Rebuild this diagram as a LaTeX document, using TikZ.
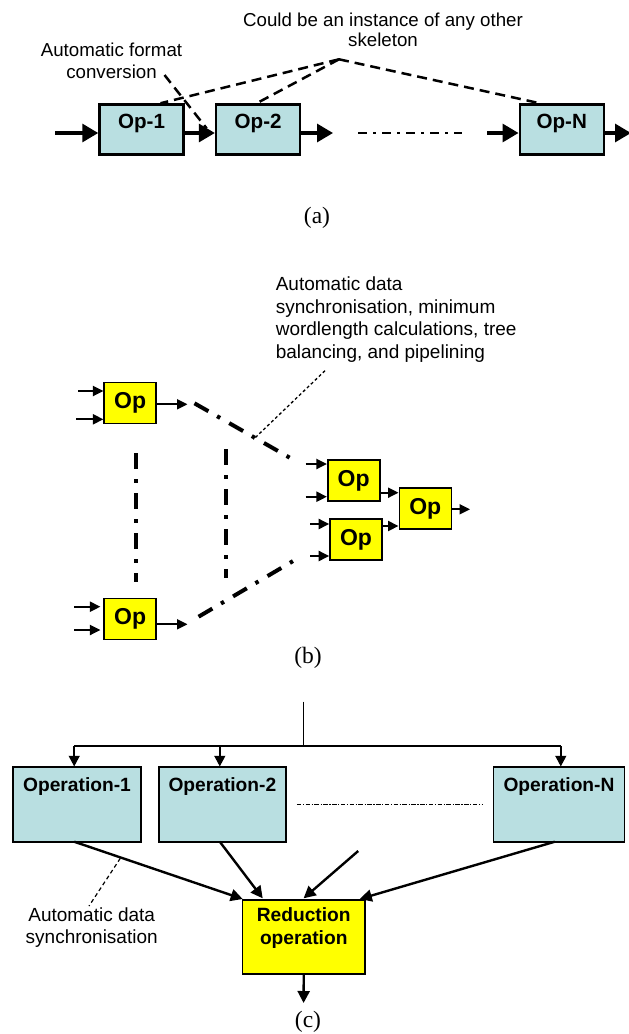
\documentclass[tikz,border=0pt]{standalone}
\usepackage{fontspec}
\setmainfont{Liberation Serif}
\setsansfont{Liberation Sans}
\usetikzlibrary{arrows.meta,calc}

\definecolor{opblue}{RGB}{185,223,225}
\definecolor{opyellow}{RGB}{255,255,0}

\tikzset{
  note/.style={font=\sffamily\fontsize{19}{21.5}\selectfont, inner sep=0pt},
  caption/.style={font=\fontsize{23.5}{26}\selectfont, inner sep=0pt},
  % part (a)
  pipebox/.style={draw, line width=2.5pt, fill=opblue, minimum width=84pt, minimum height=50pt, inner sep=0pt},
  pipelbl/.style={font=\sffamily\bfseries\fontsize{20.6}{23}\selectfont, inner sep=0pt},
  pipearrow/.style={line width=3.2pt, -{Triangle[length=16pt,width=18pt]}},
  pipedash/.style={line width=2.5pt, dash pattern=on 10pt off 6pt},
  pipegap/.style={line width=2.7pt, dash pattern=on 8.5pt off 6.5pt on 2.5pt off 6.5pt},
  % part (b)
  treebox/.style={draw, line width=1.6pt, fill=opyellow, minimum width=52pt, minimum height=41pt, inner sep=0pt,
    font=\sffamily\bfseries\fontsize{23}{26}\selectfont},
  treearrow/.style={line width=2.1pt, -{Triangle[length=10.5pt,width=10pt]}},
  treegap/.style={line width=4pt, dash pattern=on 16pt off 10pt on 3.5pt off 10.5pt},
  treelead/.style={line width=1.3pt, dash pattern=on 3pt off 2.5pt},
  % part (c)
  redbox/.style={draw, line width=1.7pt, fill=opblue, minimum height=74.4pt, inner sep=0pt},
  redlbl/.style={font=\sffamily\bfseries\fontsize{19.2}{23.3}\selectfont, inner sep=0pt},
  forkline/.style={line width=1.5pt},
  forkarrow/.style={line width=1.5pt, -{Triangle[length=10.7pt,width=11pt]}},
  joinarrow/.style={line width=2.4pt, -{Triangle[length=12pt,width=12pt]}},
  redgap/.style={line width=1.3pt, dash pattern=on 4.5pt off 1.6pt on 1.2pt off 1.5pt},
  redlead/.style={line width=1.2pt, dash pattern=on 4pt off 3pt},
}

\begin{document}
\begin{tikzpicture}[x=1pt,y=-1pt]
\path[use as bounding box, fill=white] (0,0) rectangle (629,1034);
\clip (0,0) rectangle (629,1034);

% ---------------- (a) pipeline of operators ----------------
\node[pipebox] (a1) at (141.5,129.5) {};
\node[pipebox] (a2) at (258.1,129.5) {};
\node[pipebox] (aN) at (561.8,129.5) {};
\node[pipelbl] (a1t) at (141.5,123.4) {Op-1};
\node[pipelbl] (a2t) at (258.1,123.4) {Op-2};
\node[pipelbl] (aNt) at (561.8,123.4) {Op-N};

\coordinate (ain) at (55,133);
\coordinate (a2out) at (333,133);
\coordinate (gapL) at (358.3,133);
\coordinate (gapR) at (462.3,133);
\coordinate (aNin) at (487,133);
\coordinate (aout) at (631,133);

\draw[pipearrow] (ain) -- (ain -| a1.west);
\draw[pipearrow] (ain -| a1.east) -- (ain -| a2.west);
\draw[pipearrow] (ain -| a2.east) -- (a2out);
\draw[pipegap] (gapL) -- (gapR);
\draw[pipearrow] (aNin) -- (aNin -| aN.west);
\draw[pipearrow] (ain -| aN.east) -- (aout);

\node[note, align=center, font=\sffamily\fontsize{18.7}{20.7}\selectfont] (skel) at (383,29.7)
  {Could be an instance of any other\\skeleton};
\node[note, align=center, font=\sffamily\fontsize{18.7}{21.7}\selectfont] (fmt) at (111.5,60.8)
  {Automatic format\\conversion};

\coordinate (apex) at (339,59.3);
\draw[pipedash] (apex) -- ([xshift=19pt]a1.north);
\draw[pipedash] (apex) -- ([xshift=-1.4pt]a2.north);
\draw[pipedash] (apex) -- ([xshift=-22pt]aN.north);
\coordinate (fmtA) at (164.5,75);
\coordinate (fmtB) at (206.6,128.3);
\draw[pipedash] (fmtA) -- (fmtB);

\node[caption] (capa) at (317,218) {(a)};

% ---------------- (b) reduction tree ----------------
\node[treebox] (b1) at (130.2,402.9) {Op};
\node[treebox] (b2) at (130.2,618.9) {Op};
\node[treebox] (b3) at (353.7,480.5) {Op};
\node[treebox] (b4) at (356.0,539.5) {Op};
\node[treebox] (b5) at (425.3,508.5) {Op};

\coordinate (b1i1) at (78,391);
\coordinate (b1i2) at (76,419.3);
\coordinate (b1o) at (187.5,404.3);
\coordinate (b2i1) at (74.2,606.7);
\coordinate (b2i2) at (74.2,630);
\coordinate (b2o) at (187.5,624.3);
\coordinate (b3i1) at (305.7,464);
\coordinate (b3i2) at (305.7,496.7);
\coordinate (b4i1) at (310,524);
\coordinate (b4i2) at (310,556);
\coordinate (b35) at (0,492.7);
\coordinate (b45) at (0,526);
\coordinate (b5o) at (470,509.3);

\draw[treearrow] (b1i1) -- (b1i1 -| b1.west);
\draw[treearrow] (b1i2) -- (b1i2 -| b1.west);
\draw[treearrow] (b1o -| b1.east) -- (b1o);
\draw[treearrow] (b2i1) -- ([xshift=-3pt]b2i1 -| b2.west);
\draw[treearrow] (b2i2) -- ([xshift=-3pt]b2i2 -| b2.west);
\draw[treearrow] (b2o -| b2.east) -- (b2o);
\draw[treearrow] (b3i1) -- (b3i1 -| b3.west);
\draw[treearrow] (b3i2) -- (b3i2 -| b3.west);
\draw[treearrow] (b4i1) -- (b4i1 -| b4.west);
\draw[treearrow] (b4i2) -- (b4i2 -| b4.west);
\draw[treearrow] (b35 -| b3.east) -- (b35 -| b5.west);
\draw[treearrow] (b45 -| b4.east) -- (b45 -| b5.west);
\draw[treearrow] (b5o -| b5.east) -- (b5o);

\coordinate (g1a) at (194.5,403.3);
\coordinate (g1b) at (290.8,458.3);
\coordinate (g2a) at (198.6,616.7);
\coordinate (g2b) at (294.8,560);
\coordinate (g3a) at (136.4,453.3);
\coordinate (g3b) at (136.4,581.7);
\coordinate (g4a) at (225.8,449.3);
\coordinate (g4b) at (225.8,578.3);
\draw[treegap] (g1a) -- (g1b);
\draw[treegap] (g2a) -- (g2b);
\draw[treegap] (g3a) -- (g3b);
\draw[treegap] (g4a) -- (g4b);

\node[note, anchor=west, align=left, font=\sffamily\fontsize{19}{22.5}\selectfont] (sync) at (275.6,319.5)
  {Automatic data\\synchronisation, minimum\\wordlength calculations, tree\\balancing, and pipelining};
\coordinate (leadA) at (325,370.7);
\coordinate (leadB) at (253.5,439.3);
\draw[treelead] (leadA) -- (leadB);

\node[caption] (capb) at (308,658) {(b)};

% ---------------- (c) parallel operations with reduction ----------------
\node[redbox, minimum width=127.6pt] (c1) at (77,804.5) {};
\node[redbox, minimum width=127.2pt] (c2) at (222.4,804.5) {};
\node[redbox, minimum width=131pt] (cN) at (559,804.5) {};
\node[redlbl, anchor=base] (c1t) at (77,791) {Operation-1};
\node[redlbl, anchor=base] (c2t) at (222.4,791) {Operation-2};
\node[redlbl, anchor=base] (cNt) at (559,791) {Operation-N};

\node[draw, line width=1.7pt, fill=opyellow, minimum width=122.5pt, minimum height=74pt, inner sep=0pt]
  (red) at (303.75,936.7) {};
\node[redlbl, align=center] (redt) at (303.75,928.3) {Reduction\\operation};

\coordinate (src) at (303.6,701.7);
\coordinate (fork) at (303.6,746);
\coordinate (f1) at (74.2,746);
\coordinate (f2) at (219.8,746);
\coordinate (fN) at (560.8,746);
\draw[forkline] (src) -- (fork);
\draw[forkline] (f1) -- (fN);
\draw[forkarrow] (f1) -- (f1 |- c1.north);
\draw[forkarrow] (f2) -- (f2 |- c2.north);
\draw[forkarrow] (fN) -- (fN |- cN.north);

\coordinate (gapcL) at (296.8,804.3);
\coordinate (gapcR) at (482.7,804.3);
\draw[redgap] (gapcL) -- (gapcR);

\coordinate (j1) at (74.2,841.7);
\coordinate (j2) at (219.8,841.7);
\coordinate (j3) at (358.2,851);
\coordinate (jN) at (554.8,841.7);
\draw[joinarrow] (j1) -- (242.7,899);
\draw[joinarrow] (j2) -- (262.7,898.3);
\draw[joinarrow] (j3) -- (303.6,898.3);
\draw[joinarrow] (jN) -- (359.8,899);
\coordinate (rout) at (303.6,1003);
\draw[joinarrow] (red.south) -- (rout);

\node[note, align=center, font=\sffamily\fontsize{19}{21.6}\selectfont] (syncc) at (91.7,927.5)
  {Automatic data\\synchronisation};
\coordinate (lcA) at (120.3,858.3);
\coordinate (lcB) at (89,906);
\draw[redlead] (lcA) -- (lcB);

\node[caption] (capc) at (308,1022) {(c)};
\end{tikzpicture}
\end{document}
